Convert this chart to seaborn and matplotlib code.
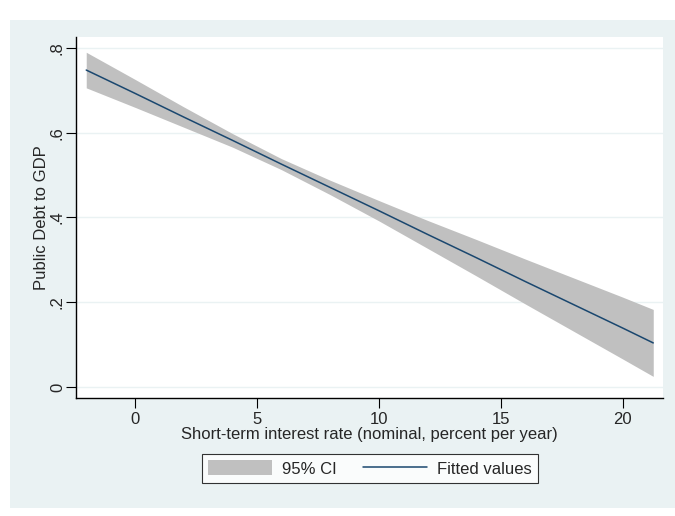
import matplotlib
matplotlib.use("Agg")
import matplotlib.pyplot as plt
import seaborn as sns
import pandas as pd
from matplotlib.patches import Rectangle, Patch
from matplotlib.lines import Line2D

# Data
rate = [-2, 0, 2, 4, 6, 8, 10, 12, 14, 16, 18, 20, 21.25]
fitted = [0.748, 0.693, 0.637, 0.582, 0.526, 0.471, 0.416, 0.360, 0.305, 0.249, 0.194, 0.139, 0.104]
ci_low = [0.706, 0.660, 0.613, 0.566, 0.513, 0.454, 0.392, 0.327, 0.262, 0.196, 0.131, 0.066, 0.025]
ci_high = [0.790, 0.726, 0.661, 0.598, 0.539, 0.488, 0.440, 0.393, 0.348, 0.302, 0.257, 0.212, 0.183]
x_ticks = [0, 5, 10, 15, 20]
y_ticks = [0, 0.2, 0.4, 0.6, 0.8]
y_tick_labels = ["0", ".2", ".4", ".6", ".8"]

df = pd.DataFrame({"rate": rate, "fitted": fitted, "lo": ci_low, "hi": ci_high})

sns.set_theme(style="white")
plt.rcParams['font.family'] = ['Liberation Sans', 'DejaVu Sans']

BG = "#eaf2f3"
LINE = "#1a476f"
BAND = "#c0c0c0"
FS = 12

fig = plt.figure(figsize=(6.75, 5.16), dpi=100)
fig.patch.set_facecolor("white")
fig.patches.append(Rectangle((10/675, 1-508/516), 665/675, 488/516,
                             transform=fig.transFigure, facecolor=BG,
                             edgecolor="none", zorder=-10))

ax = fig.add_axes([76/675, 1-398/516, (663-76)/675, (398-37)/516])
ax.set_facecolor("white")

ax.fill_between(df["rate"], df["lo"], df["hi"], color=BAND, linewidth=0, zorder=2)
sns.lineplot(data=df, x="rate", y="fitted", ax=ax, color=LINE, linewidth=1.1, zorder=3)

ax.set_xlim(-2.42, 21.65)
ax.set_ylim(-0.026, 0.826)
ax.set_xticks(x_ticks)
ax.set_yticks(y_ticks)
ax.set_yticklabels(y_tick_labels, rotation=90, va="center")
ax.tick_params(axis="both", which="both", direction="out", length=7, width=0.8,
               color="black", labelsize=FS, bottom=True, left=True, pad=3)
ax.tick_params(axis="y", pad=1)
for t in y_ticks:
    ax.axhline(t, color=BG, linewidth=1.0, zorder=1)
ax.grid(False)
for s in ["top", "right"]:
    ax.spines[s].set_visible(False)
for s in ["left", "bottom"]:
    ax.spines[s].set_color("black")
    ax.spines[s].set_linewidth(1.0)

ax.set_xlabel("Short-term interest rate (nominal, percent per year)", fontsize=FS, labelpad=0)
ax.set_ylabel("Public Debt to GDP", fontsize=FS, labelpad=1)

handles = [Patch(facecolor=BAND, edgecolor="none"),
           Line2D([0], [0], color=LINE, linewidth=1.1)]
leg = fig.legend(handles, ["95% CI", "Fitted values"], loc="center",
                 bbox_to_anchor=(370/675, 1-468.5/516), ncol=2, fontsize=FS,
                 frameon=True, fancybox=False, edgecolor="black",
                 handlelength=3.85, handleheight=1.0, columnspacing=1.55,
                 borderpad=0.38, handletextpad=0.6)
leg.get_frame().set_linewidth(0.8)
leg.get_frame().set_facecolor("white")

fig.savefig("out.png", dpi=100, facecolor=fig.get_facecolor())
